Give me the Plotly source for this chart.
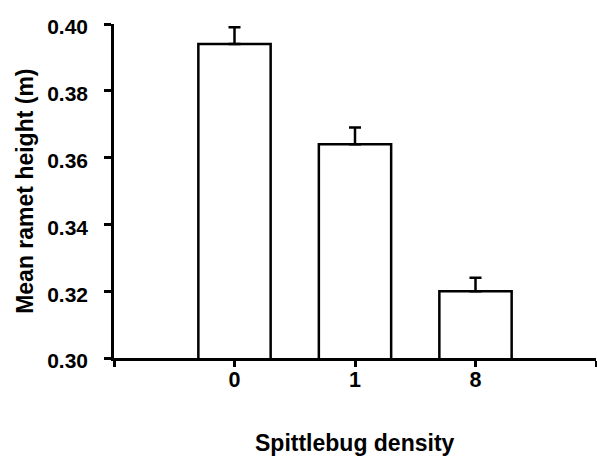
import plotly.graph_objects as go

categories = ["0", "1", "8"]
mean_height = [0.394, 0.364, 0.320]
se_height = [0.005, 0.005, 0.004]
y_ticks = [0.30, 0.32, 0.34, 0.36, 0.38, 0.40]

FONT = "Liberation Sans, Arial, sans-serif"
xpos = list(range(len(categories)))

fig = go.Figure()
fig.add_trace(go.Bar(
    x=xpos,
    y=mean_height,
    width=0.6,
    base=0,
    marker=dict(color="white", line=dict(color="black", width=2.5)),
    error_y=dict(type="data", array=se_height, arrayminus=[0] * len(se_height),
                 symmetric=False, color="black", thickness=2.5, width=6),
    showlegend=False,
))

fig.update_layout(
    width=597, height=457,
    margin=dict(l=114, r=1, t=24, b=99),
    plot_bgcolor="white", paper_bgcolor="white",
    font=dict(family=FONT, color="black", size=20, weight="bold"),
    xaxis=dict(
        range=[-1, len(categories)],
        tickvals=[-1] + xpos + [len(categories)],
        ticktext=[""] + categories + [""],
        showline=True, linecolor="black", linewidth=2.5,
        ticks="outside", ticklen=6, tickwidth=2.5, tickcolor="black",
        showgrid=False, zeroline=False,
        tickfont=dict(size=21.5, family=FONT, weight="bold"),
        ticklabelstandoff=-6,
    ),
    yaxis=dict(
        range=[0.30, 0.40],
        tickvals=y_ticks,
        ticktext=[f"{v:.2f}" for v in y_ticks],
        showline=True, linecolor="black", linewidth=2.5,
        ticks="outside", ticklen=7, tickwidth=2.5, tickcolor="black",
        showgrid=False, zeroline=False,
        tickfont=dict(size=21, family=FONT, weight="bold"),
        ticklabelstandoff=12,
        ticklabelshift=3,
    ),
    annotations=[
        dict(text="Spittlebug density", xref="paper", yref="paper",
             x=0.5, y=-0.254, xanchor="center", yanchor="middle",
             showarrow=False, font=dict(size=23, family=FONT, weight="bold")),
        dict(text="Mean ramet height (m)", xref="paper", yref="paper",
             x=-0.185, y=0.5, xanchor="center", yanchor="middle", textangle=-90,
             showarrow=False, font=dict(size=23, family=FONT, weight="bold")),
    ],
)

fig.write_html("out.html")
